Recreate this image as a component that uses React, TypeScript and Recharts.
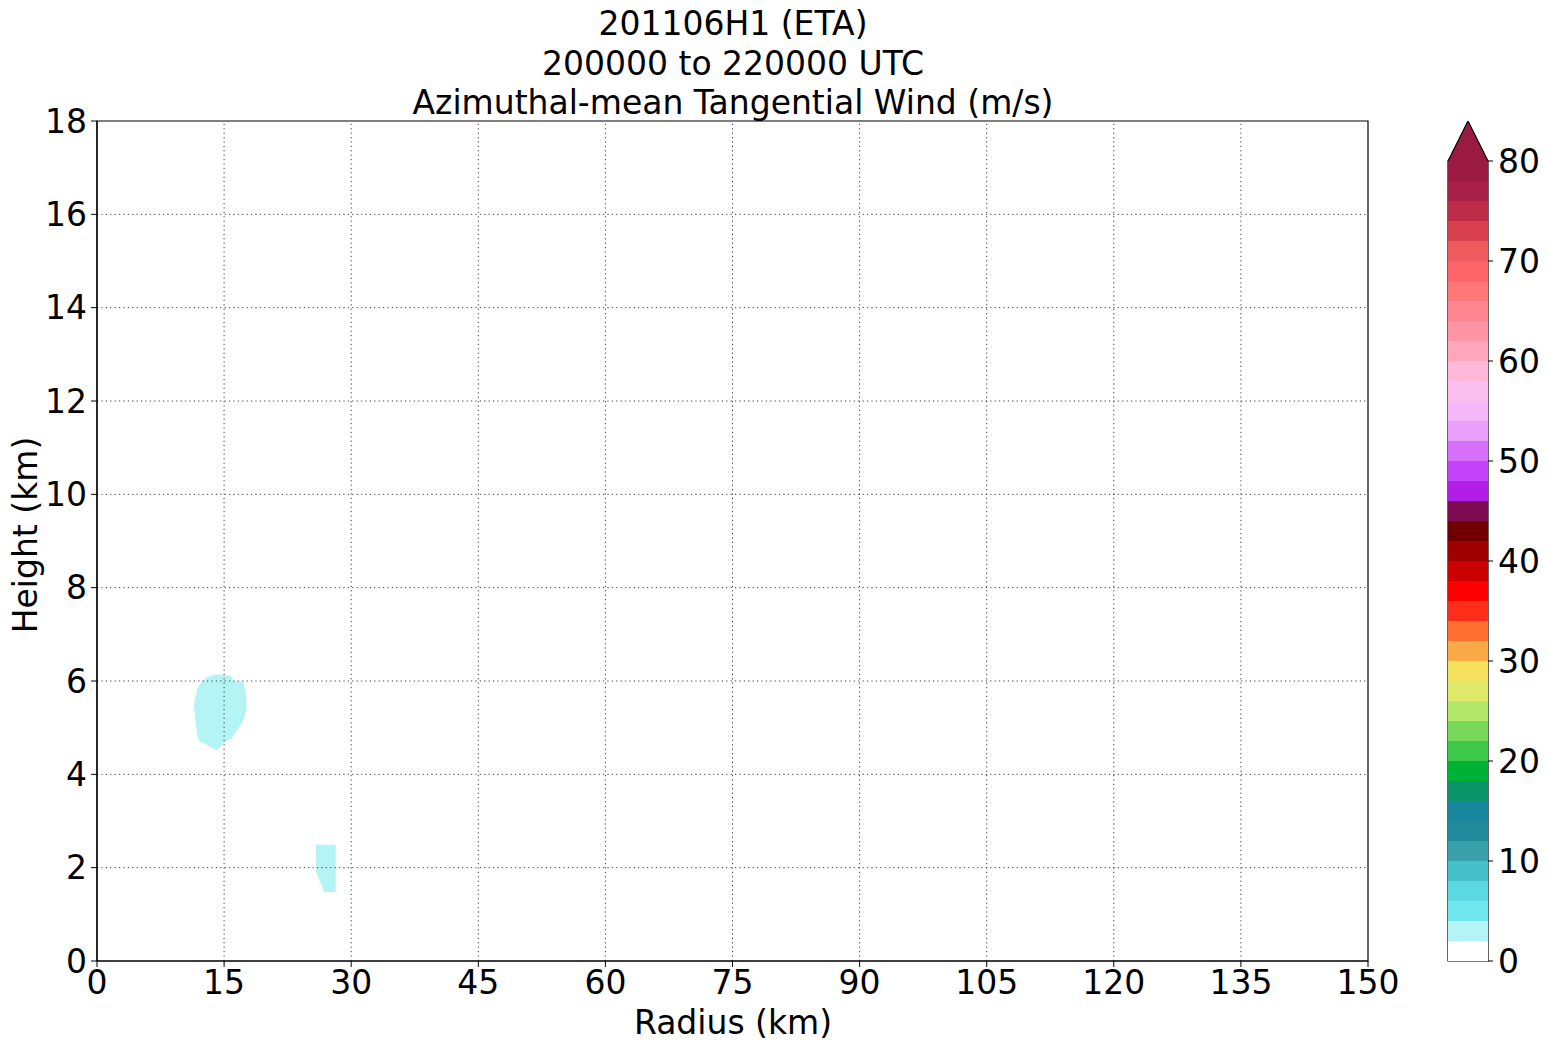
import {
  ComposedChart,
  BarChart,
  Area,
  Bar,
  XAxis,
  YAxis,
  ReferenceLine,
  ReferenceArea,
} from 'recharts'

const FONT = '"DejaVu Sans", "Liberation Sans", sans-serif'

const titleLines = [
  '201106H1 (ETA)',
  '200000 to 220000 UTC',
  'Azimuthal-mean Tangential Wind (m/s)',
]

const radiusTicks = [0, 15, 30, 45, 60, 75, 90, 105, 120, 135, 150]
const heightTicks = [0, 2, 4, 6, 8, 10, 12, 14, 16, 18]

// colour bar: 2 m/s bands from 0 to 80, plus an "extend max" triangle
const colorbarTicks = [0, 10, 20, 30, 40, 50, 60, 70, 80]
const bandWidth = 2
const extendSize = 4
const levelColors = [
  '#ffffff', '#b4f4f4', '#6ee8ee', '#5cd8e0', '#46bfca',
  '#37a0aa', '#228b9b', '#16879e', '#0a9467', '#00b233',
  '#3ec84a', '#78d85a', '#b4e86a', '#e0ea6a', '#f6e05c',
  '#fcaa48', '#ff6e2e', '#ff2e1a', '#ff0000', '#cc0000',
  '#a00000', '#700000', '#7d0a52', '#b01ee8', '#c444fc',
  '#d670fa', '#e8a0fc', '#f4b8f8', '#fbc0f0', '#ffb8d8',
  '#ffa6bc', '#ff94a4', '#ff8590', '#ff7878', '#fd6468',
  '#ef5a5e', '#d84050', '#bc2c48', '#a82048', '#9a1a44',
]
const extendColor = '#9a1a44'

// the two 2-4 m/s patches (radius km -> height km range)
const blobARadius = [11.45, 11.8, 12.16, 12.55, 13.1, 13.69, 14.13, 14.52, 15.0, 15.9, 16.09, 17.27, 17.5, 17.66]
const blobALow = [5.45, 4.84, 4.69, 4.67, 4.61, 4.56, 4.52, 4.58, 4.67, 4.78, 4.82, 5.16, 5.29, 5.42]
const blobAHigh = [5.52, 5.81, 5.94, 6.02, 6.09, 6.13, 6.14, 6.14, 6.13, 6.09, 6.0, 5.98, 5.77, 5.59]

const blobBRadius = [25.85, 26.8, 28.17]
const blobBLow = [1.91, 1.48, 1.48]
const blobBHigh = [2.49, 2.49, 2.49]

const blobColor = levelColors[1]

const contourData = [
  ...blobARadius.map((r, i) => ({ r, a: [blobALow[i], blobAHigh[i]], b: null })),
  ...blobBRadius.map((r, i) => ({ r, a: null, b: [blobBLow[i], blobBHigh[i]] })),
]

const colorbarRow: Record<string, number | string> = { name: 'cb', ext: extendSize }
levelColors.forEach((_, i) => {
  colorbarRow[`l${i}`] = bandWidth
})
const colorbarData = [colorbarRow]

const tickStyle = { fill: '#000', fontSize: 33, fontFamily: FONT }
const gridStroke = '#3a3a3a'

function ExtendTriangle(props: any) {
  const { x, y, width, height } = props
  const base = y + height
  return (
    <g>
      <path
        d={`M${x},${base} L${x + width / 2},${y} L${x + width},${base} Z`}
        fill={extendColor}
        stroke="none"
      />
      <path
        d={`M${x},${base} L${x + width / 2},${y} L${x + width},${base}`}
        fill="none"
        stroke="#000"
        strokeWidth={1.2}
      />
    </g>
  )
}

function MainChart() {
  return (
    <ComposedChart
      width={1400}
      height={1045}
      data={contourData}
      margin={{ top: 121, right: 32, bottom: 34, left: 7 }}
    >
      <XAxis
        dataKey="r"
        type="number"
        domain={[0, 150]}
        ticks={radiusTicks}
        interval={0}
        height={50}
        tick={tickStyle}
        tickSize={6}
        tickMargin={4}
        axisLine={{ stroke: '#000', strokeWidth: 1.2 }}
        tickLine={{ stroke: '#000' }}
        allowDataOverflow
      />
      <YAxis
        type="number"
        domain={[0, 18]}
        ticks={heightTicks}
        interval={0}
        width={90}
        tick={tickStyle}
        tickSize={6}
        tickMargin={4}
        axisLine={{ stroke: '#000', strokeWidth: 1.2 }}
        tickLine={{ stroke: '#000' }}
        allowDataOverflow
      />
      <Area
        type="linear"
        dataKey="a"
        fill={blobColor}
        fillOpacity={1}
        stroke="none"
        dot={false}
        activeDot={false}
        isAnimationActive={false}
      />
      <Area
        type="linear"
        dataKey="b"
        fill={blobColor}
        fillOpacity={1}
        stroke="none"
        dot={false}
        activeDot={false}
        isAnimationActive={false}
      />
      {radiusTicks.slice(1, -1).map((r) => (
        <ReferenceLine key={`vx${r}`} x={r} stroke={gridStroke} strokeDasharray="1.2 3.2" strokeWidth={1} />
      ))}
      {heightTicks.slice(1, -1).map((h) => (
        <ReferenceLine key={`hy${h}`} y={h} stroke={gridStroke} strokeDasharray="1.2 3.2" strokeWidth={1} />
      ))}
      <ReferenceArea x1={0} x2={150} y1={0} y2={18} fill="none" stroke="#000" strokeWidth={1.2} />
    </ComposedChart>
  )
}

function Colorbar() {
  return (
    <BarChart
      width={148}
      height={1045}
      data={colorbarData}
      margin={{ top: 121, right: 0, bottom: 84, left: 48 }}
      barCategoryGap={0}
      barGap={0}
    >
      <XAxis dataKey="name" hide />
      <YAxis
        orientation="right"
        type="number"
        domain={[0, 80 + extendSize]}
        ticks={colorbarTicks}
        interval={0}
        width={60}
        tick={tickStyle}
        tickSize={5}
        tickMargin={5}
        axisLine={false}
        tickLine={{ stroke: '#000' }}
        allowDataOverflow
      />
      {levelColors.map((c, i) => (
        <Bar key={`l${i}`} dataKey={`l${i}`} stackId="cb" fill={c} isAnimationActive={false} />
      ))}
      <Bar dataKey="ext" stackId="cb" shape={ExtendTriangle} isAnimationActive={false} />
      <ReferenceArea y1={0} y2={80} fill="none" stroke="#000" strokeWidth={1.2} />
    </BarChart>
  )
}

export default function App() {
  return (
    <div style={{ position: 'absolute', left: 0, top: 0, width: 1548, height: 1045, background: '#fff' }}>
      <div style={{ position: 'absolute', left: 0, top: 0 }}>
        <MainChart />
      </div>
      <div style={{ position: 'absolute', left: 1400, top: 0 }}>
        <Colorbar />
      </div>
      <svg
        width={1548}
        height={1045}
        style={{ position: 'absolute', left: 0, top: 0, pointerEvents: 'none' }}
        fontFamily={FONT}
        fontSize={33}
      >
        {titleLines.map((t, i) => (
          <text key={t} x={733} y={35 + i * 39.5} textAnchor="middle" fill="#000">
            {t}
          </text>
        ))}
        <text x={733} y={1034} textAnchor="middle" fill="#000">
          Radius (km)
        </text>
        <text x={37} y={535} textAnchor="middle" fill="#000" transform="rotate(-90 37 535)">
          Height (km)
        </text>
      </svg>
    </div>
  )
}
